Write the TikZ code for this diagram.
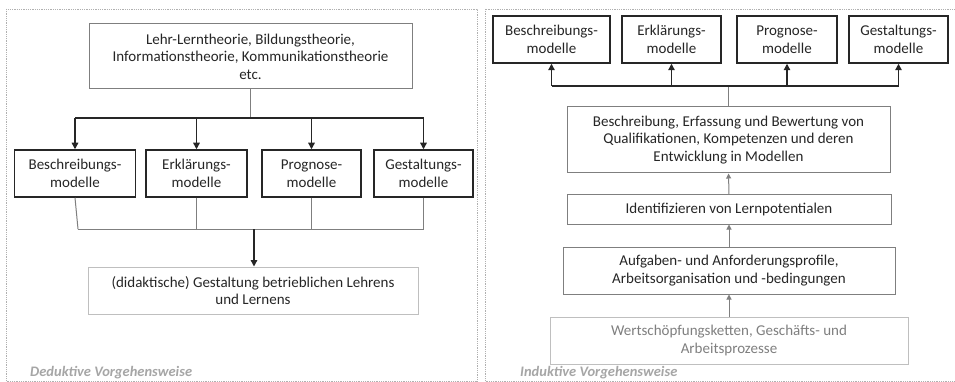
\documentclass[tikz,border=0pt]{standalone}
\usepackage{fontspec}
\setmainfont{Carlito}
\usetikzlibrary{arrows.meta}
\definecolor{ink}{HTML}{262626}
\definecolor{midgray}{HTML}{7F7F7F}
\definecolor{lightgray}{HTML}{BFBFBF}
\definecolor{labelgray}{HTML}{A6A6A6}
\definecolor{framegray}{HTML}{B0B0B0}
\begin{document}
\begin{tikzpicture}[x=1pt,y=-1pt,
  every node/.style={font=\fontsize{15}{17.5}\selectfont, align=center, inner sep=0pt},
  modelbox/.style={draw=ink, line width=1.5pt, minimum height=47pt, text=ink},
  plainbox/.style={draw=midgray, line width=1pt, text=ink},
  palebox/.style={draw=lightgray, line width=1pt, text=ink},
  fadedbox/.style={draw=lightgray, line width=1pt, text=midgray},
  panel/.style={draw=framegray, densely dotted, line width=0.8pt},
  tag/.style={font=\fontsize{14.5}{17}\selectfont\bfseries\itshape, text=labelgray, anchor=west},
  link/.style={draw=midgray, line width=1pt},
  strong/.style={draw=ink, line width=1.3pt, -{Triangle[width=6.5pt,length=6.5pt]}},
  soft/.style={draw=midgray, line width=1pt, -{Triangle[width=5pt,length=5pt]}}
]
\useasboundingbox (0,0) rectangle (955,382);
\fill[white] (0,0) rectangle (955,382);

% panel frames
\draw[panel] (6,9) rectangle (477,381);
\draw[panel] (485,9) rectangle (958,381);

% ---------- deductive side ----------
\node[plainbox, minimum width=323pt, minimum height=65pt] (theo) at (250.5,56.5)
  {Lehr-Lerntheorie, Bildungstheorie,\\Informationstheorie, Kommunikationstheorie\\etc.};

\node[modelbox, minimum width=121pt] (dA) at (75,173.5) {Beschreibungs-\\modelle};
\node[modelbox, minimum width=101pt] (dB) at (196.5,173.5) {Erklärungs-\\modelle};
\node[modelbox, minimum width=99pt]  (dC) at (311.5,173.5) {Prognose-\\modelle};
\node[modelbox, minimum width=99pt]  (dD) at (423.5,173.5) {Gestaltungs-\\modelle};

\node[palebox, minimum width=330pt, minimum height=47pt] (gest) at (253,290.5)
  {(didaktische) Gestaltung betrieblichen Lehrens\\und Lernens};

\coordinate (split) at (theo.south |- 0,118);
\coordinate (merge) at (254,229);
\coordinate (mergeA) at (78,229);
\draw[link] (theo.south) -- (split);
\draw[link, draw=ink, line width=1.2pt] (dA.north |- split) -- (dD.north |- split);
\foreach \n in {dA,dB,dC,dD}
  \draw[strong] (\n.north |- split) -- (\n.north);
\draw[link] (dA.south) -- (mergeA);
\foreach \n in {dB,dC,dD}
  \draw[link] (\n.south) -- (\n.south |- merge);
\draw[link] (mergeA) -- (dD.south |- merge);
\draw[strong] (merge) -- (merge |- gest.north);

\node[tag] (ded) at (30,373) {Deduktive Vorgehensweise};

% ---------- inductive side ----------
\node[modelbox, minimum width=117pt] (iA) at (551.5,39.5) {Beschreibungs-\\modelle};
\node[modelbox, minimum width=99pt]  (iB) at (671.5,39.5) {Erklärungs-\\modelle};
\node[modelbox, minimum width=100pt] (iC) at (787,39.5) {Prognose-\\modelle};
\node[modelbox, minimum width=99pt]  (iD) at (898.5,39.5) {Gestaltungs-\\modelle};

\node[plainbox, minimum width=323pt, minimum height=66pt] (model) at (728.5,140)
  {Beschreibung, Erfassung und Bewertung von\\Qualifikationen, Kompetenzen und deren\\Entwicklung in Modellen};
\node[plainbox, minimum width=324pt, minimum height=29pt] (ident) at (729,209.5)
  {Identifizieren von Lernpotentialen};
\node[plainbox, minimum width=332pt, minimum height=47pt] (auf) at (729,270.5)
  {Aufgaben- und Anforderungsprofile,\\Arbeitsorganisation und -bedingungen};
\node[fadedbox, minimum width=358pt, minimum height=47pt] (wert) at (729,340.5)
  {Wertschöpfungsketten, Geschäfts- und\\Arbeitsprozesse};

\coordinate (fan) at (model.north |- 0,86);
\draw[link] (model.north) -- (fan);
\draw[link, draw=ink, line width=1.2pt] (iA.south |- fan) -- (iD.south |- fan);
\foreach \n in {iA,iB,iC,iD}
  \draw[strong] (\n.south |- fan) -- (\n.south);
\draw[soft] (ident.north) -- (model.south);
\draw[soft] (auf.north) -- (ident.south);
\draw[soft] (wert.north) -- (auf.south);

\node[tag] (ind) at (520,373) {Induktive Vorgehensweise};
\end{tikzpicture}
\end{document}
